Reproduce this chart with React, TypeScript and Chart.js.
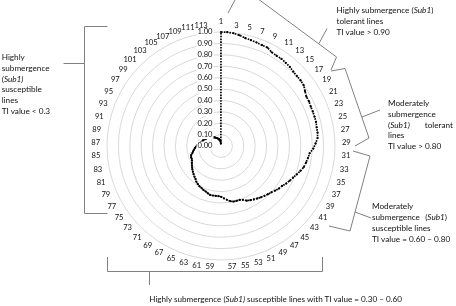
import React, { useEffect, useRef } from "react";
import { Chart, registerables } from "chart.js";

Chart.register(...registerables);

// Category labels: line numbers 1..114 (only odd ones are printed)
const CATEGORIES = [
  "1","2","3","4","5","6","7","8","9","10","11","12","13","14","15","16","17","18","19","20",
  "21","22","23","24","25","26","27","28","29","30","31","32","33","34","35","36","37","38","39","40",
  "41","42","43","44","45","46","47","48","49","50","51","52","53","54","55","56","57","58","59","60",
  "61","62","63","64","65","66","67","68","69","70","71","72","73","74","75","76","77","78","79","80",
  "81","82","83","84","85","86","87","88","89","90","91","92","93","94","95","96","97","98","99","100",
  "101","102","103","104","105","106","107","108","109","110","111","112","113","114",
];

// Tolerance index (TI) per line
const TI_VALUES = [
  1.0, 1.0, 0.995, 0.985, 0.97, 0.965, 0.96, 0.955, 0.955, 0.935,
  0.93, 0.93, 0.925, 0.92, 0.91, 0.905, 0.905, 0.9, 0.88, 0.865,
  0.865, 0.86, 0.86, 0.86, 0.86, 0.855, 0.855, 0.85, 0.83, 0.81,
  0.78, 0.77, 0.76, 0.75, 0.73, 0.71, 0.69, 0.675, 0.66, 0.64,
  0.63, 0.615, 0.6, 0.59, 0.58, 0.57, 0.56, 0.55, 0.54, 0.53,
  0.51, 0.5, 0.5, 0.5, 0.49, 0.475, 0.46, 0.445, 0.44, 0.44,
  0.44, 0.44, 0.43, 0.42, 0.415, 0.405, 0.4, 0.39, 0.38, 0.365,
  0.355, 0.345, 0.335, 0.325, 0.315, 0.305, 0.295, 0.285, 0.28, 0.28,
  0.275, 0.26, 0.25, 0.24, 0.23, 0.22, 0.21, 0.2, 0.19, 0.18,
  0.17, 0.165, 0.16, 0.15, 0.145, 0.14, 0.13, 0.125, 0.12, 0.11,
  0.105, 0.1, 0.095, 0.09, 0.085, 0.08, 0.075, 0.07, 0.065, 0.06,
  0.055, 0.05, 0.04, 0.02,
];

const AXIS_MIN = 0;
const AXIS_MAX = 1;
const AXIS_STEP = 0.1;
const LABEL_EVERY = 2;

const FONT = "Lato, 'Open Sans', sans-serif";
const TEXT_COLOR = "#111111";
const BRACKET_COLOR = "#808080";

const tickLabelPlugin = {
  id: "tickLabelsLeft",
  afterDatasetsDraw(chart: any) {
    const s = chart.scales.r;
    const ctx = chart.ctx;
    ctx.save();
    ctx.font = `7.6px ${FONT}`;
    ctx.textAlign = "right";
    ctx.textBaseline = "middle";
    s.ticks.forEach((t: any) => {
      const y = s.yCenter - s.getDistanceFromCenterForValue(t.value);
      const x = s.xCenter - 8.5;
      const txt = Number(t.value).toFixed(2);
      const w = ctx.measureText(txt).width;
      ctx.fillStyle = "#ffffff";
      ctx.fillRect(x - w - 1, y - 4.5, w + 2, 9);
      ctx.fillStyle = TEXT_COLOR;
      ctx.fillText(txt, x, y);
    });
    ctx.restore();
  },
};

const categoryLabelPlugin = {
  id: "categoryLabels",
  afterDatasetsDraw(chart: any) {
    const s = chart.scales.r;
    const ctx = chart.ctx;
    const labels: string[] = chart.data.labels;
    const n = labels.length;
    ctx.save();
    ctx.font = `7.6px ${FONT}`;
    ctx.fillStyle = TEXT_COLOR;
    labels.forEach((lab, i) => {
      if (i % LABEL_EVERY !== 0) return;
      const p = s.getPointPosition(i, s.drawingArea + 7);
      const deg = (i * 360) / n;
      if (deg === 0) {
        ctx.textAlign = "center";
        ctx.textBaseline = "bottom";
      } else if (deg < 180) {
        ctx.textAlign = "left";
        ctx.textBaseline = "middle";
      } else if (deg === 180) {
        ctx.textAlign = "center";
        ctx.textBaseline = "top";
      } else {
        ctx.textAlign = "right";
        ctx.textBaseline = "middle";
      }
      ctx.fillText(lab, p.x, p.y);
    });
    ctx.restore();
  },
};

function Bracket({ d }: { d: string }) {
  return <path d={d} fill="none" stroke={BRACKET_COLOR} strokeWidth={1} />;
}

const textStyle: React.CSSProperties = {
  position: "absolute",
  fontFamily: FONT,
  fontSize: "8.2px",
  lineHeight: "10.8px",
  color: TEXT_COLOR,
  whiteSpace: "nowrap",
};

export default function App() {
  const ref = useRef<HTMLCanvasElement | null>(null);

  useEffect(() => {
    if (!ref.current) return;
    const chart = new Chart(ref.current, {
      type: "radar",
      data: {
        labels: CATEGORIES,
        datasets: [
          {
            label: "TI",
            data: TI_VALUES,
            borderColor: "#000000",
            borderWidth: 1.7,
            borderDash: [1.6, 1.2],
            fill: false,
            pointRadius: 1.1,
            pointBorderWidth: 0,
            pointBackgroundColor: "#000000",
            tension: 0,
          },
        ],
      },
      options: {
        responsive: false,
        animation: false,
        layout: { padding: { left: 0, right: 14, top: 32, bottom: 46 } },
        plugins: { legend: { display: false }, tooltip: { enabled: false } },
        scales: {
          r: {
            min: AXIS_MIN,
            max: AXIS_MAX,
            ticks: { stepSize: AXIS_STEP, display: false },
            grid: { circular: true, color: "#d9d9d9", lineWidth: 1 },
            angleLines: { display: false },
            pointLabels: { display: false },
          },
        },
      },
      plugins: [tickLabelPlugin, categoryLabelPlugin],
    });
    return () => chart.destroy();
  }, []);

  return (
    <div style={{ position: "absolute", left: 0, top: 0, width: 456, height: 306, background: "#fff", overflow: "hidden" }}>
      <canvas ref={ref} width={456} height={306} style={{ display: "block", width: 456, height: 306 }} />
      <svg width={456} height={306} style={{ position: "absolute", left: 0, top: 0 }}>
        {/* top-right: highly tolerant */}
        <Bracket d="M228,13 L242,-13 L336.5,57 L331,70" />
        <Bracket d="M319,43.5 L327,28.5" />
        {/* right: moderately tolerant */}
        <Bracket d="M331,71 L345,68.5 L369,138 L355,146" />
        <Bracket d="M362,117 L380,110" />
        {/* right-lower: moderately susceptible */}
        <Bracket d="M353,151 L370,156 L350,231 L329,226" />
        <Bracket d="M355,212 L371,218" />
        {/* left: highly susceptible < 0.3 */}
        <Bracket d="M107.5,26.5 L84.5,26.5 L84.5,213.5 L107.5,213.5" />
        <Bracket d="M63.5,63.5 L84.5,63.5" />
        {/* bottom: 0.30 - 0.60 */}
        <Bracket d="M107.5,257 L107.5,271.5 L322.5,271.5 L322.5,257" />
        <Bracket d="M149.5,271.5 L149.5,285" />
      </svg>

      <div style={{ ...textStyle, left: 336.5, top: 5.4 }}>
        <div>Highly submergence (<i>Sub1</i>)</div>
        <div>tolerant lines</div>
        <div>TI value &gt; 0.90</div>
      </div>

      <div style={{ ...textStyle, left: 388, top: 98 }}>
        <div>Moderately</div>
        <div>submergence</div>
        <div style={{ display: "flex", justifyContent: "space-between", width: 65 }}>
          <span>(<i>Sub1)</i></span>
          <span>tolerant</span>
        </div>
        <div>lines</div>
        <div>TI value &gt; 0.80</div>
      </div>

      <div style={{ ...textStyle, left: 372, top: 201.3 }}>
        <div>Moderately</div>
        <div style={{ display: "flex", justifyContent: "space-between", width: 75 }}>
          <span>submergence</span>
          <span>(<i>Sub1</i>)</span>
        </div>
        <div>susceptible lines</div>
        <div>TI value = 0.60 – 0.80</div>
      </div>

      <div style={{ ...textStyle, left: 1.7, top: 52 }}>
        <div>Highly</div>
        <div>submergence</div>
        <div>(<i>Sub1)</i></div>
        <div>susceptible</div>
        <div>lines</div>
        <div>TI value &lt; 0.3</div>
      </div>

      <div style={{ ...textStyle, left: 149.3, top: 293.6, fontSize: "8.1px" }}>
        Highly submergence (<i>Sub1)</i> susceptible lines with TI value = 0.30 – 0.60
      </div>
    </div>
  );
}
